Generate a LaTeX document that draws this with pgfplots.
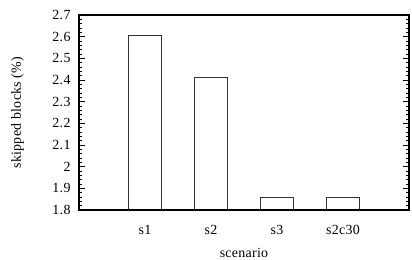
\documentclass[border=0pt]{standalone}
\usepackage{fontspec}
\setmainfont{Liberation Serif}[LetterSpace=2]
\usepackage{pgfplots}
\pgfplotsset{compat=1.18}
\begin{document}
\begin{tikzpicture}
\begin{axis}[
 scale only axis, width=330bp, height=195bp,
 xmin=0, xmax=5, ymin=1.8, ymax=2.7,
 ytick={1.8,1.9,2,2.1,2.2,2.3,2.4,2.5,2.6,2.7},
 minor y tick num=4,
 xtick={1,2,3,4}, xticklabels={s1,s2,s3,s2c30},
 xtick style={draw=none},
 tick align=inside,
 major tick length=6bp, minor tick length=3bp,
 ybar, bar width=0.5,
 axis on top,
 xlabel={scenario}, ylabel={skipped blocks (\%)},
 /pgf/number format/assume math mode=true,
 yticklabel style={/pgf/number format/fixed, /pgf/number format/precision=1, xshift=-5bp},
 xticklabel style={anchor=base, yshift=-19bp},
 ylabel style={at={(axis description cs:-0.186,0.5)}, anchor=center},
 xlabel style={at={(axis description cs:0.5,-0.245)}, anchor=base},
 font=\fontsize{14}{16}\selectfont,
 axis line style={line width=1.2pt},
 every tick/.style={black, line width=0.5pt},
]
\addplot[fill=white, draw=black!80, line width=0.7pt] coordinates {(1,2.608) (2,2.414) (3,1.859) (4,1.859)};
\end{axis}
\pgfresetboundingbox
\path (current axis.south west) ++(-79bp,-50bp);
\path (current axis.north east) ++(3bp,15bp);
\end{tikzpicture}
\end{document}
